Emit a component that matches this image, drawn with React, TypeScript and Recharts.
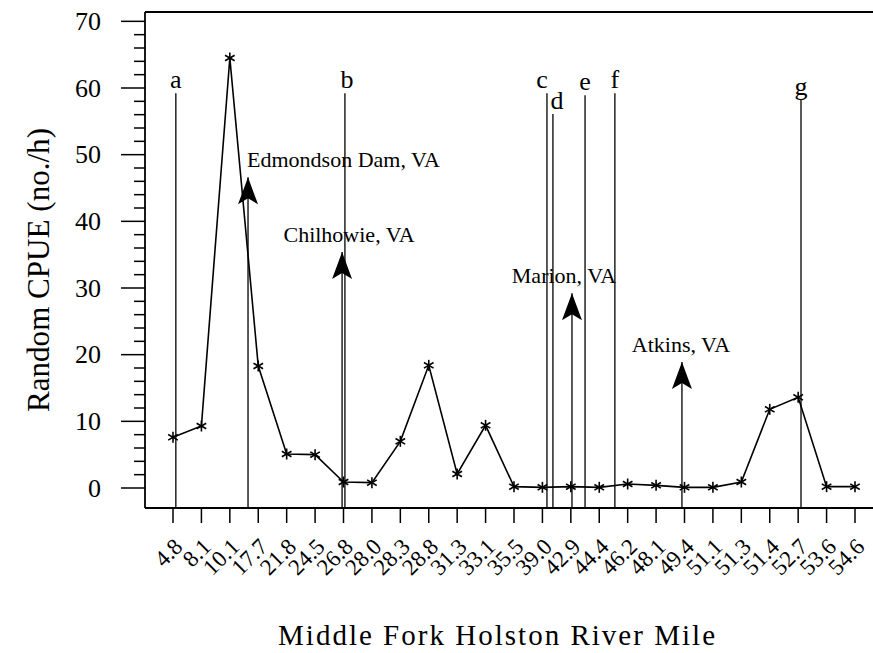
import React from 'react';
import { LineChart, Line, XAxis, YAxis, ReferenceLine, ReferenceDot } from 'recharts';

// river mile of each sampling site, left to right
const riverMiles = ['4.8', '8.1', '10.1', '17.7', '21.8', '24.5', '26.8', '28.0', '28.3', '28.8', '31.3', '33.1', '35.5',
    '39.0', '42.9', '44.4', '46.2', '48.1', '49.4', '51.1', '51.3', '51.4', '52.7', '53.6', '54.6'];
const cpue = [7.6, 9.3, 64.5, 18.3, 5.1, 5.0, 0.9, 0.8, 7.0, 18.4, 2.1, 9.4, 0.2, 0.1, 0.2, 0.1, 0.6, 0.4, 0.1, 0.1, 0.9,
    11.8, 13.6, 0.2, 0.2];

const yTicks = [0, 2, 4, 6, 8, 10, 12, 14, 16, 18, 20, 22, 24, 26, 28, 30, 32, 34, 36, 38, 40, 42, 44, 46, 48, 50, 52, 54,
    56, 58, 60, 62, 64, 66, 68, 70];

// lettered reach boundaries (x in site-index units)
const siteLetters = ['a', 'b', 'c', 'd', 'e', 'f', 'g'];
const sitePositions = [0.1, 6.05, 13.16, 13.37, 14.5, 15.55, 22.1];
const siteTops = [59.2, 59.2, 59.2, 56.1, 58.9, 59.2, 58.2];

// towns marked with arrows
const towns = ['Edmondson Dam, VA', 'Chilhowie, VA', 'Marion, VA', 'Atkins, VA'];
const townPositions = [2.64, 5.95, 14.04, 17.91];
const townArrowTips = [46.6, 35.4, 29.2, 18.9];

const Y_MIN = -3;
const Y_MAX = 71.4;
const SERIF = '"Liberation Serif", "Times New Roman", serif';

const letterDx = [0, 2, -5, 4, 0, 0, 0];
const townText = [
    { dx: -1, anchor: 'start' },
    { dx: 7, anchor: 'middle' },
    { dx: -8, anchor: 'middle' },
    { dx: -1, anchor: 'middle' },
];

const data = riverMiles.map((mile, i) => ({ idx: i, mile, cpue: cpue[i] }));

const Asterisk = ({ cx, cy }: any) => {
    if (cx == null || cy == null) return null;
    return (
        <g stroke="#000" strokeWidth={1.6}>
            <line x1={cx} y1={cy - 5.5} x2={cx} y2={cy + 5.5} />
            <line x1={cx - 4.8} y1={cy - 2.8} x2={cx + 4.8} y2={cy + 2.8} />
            <line x1={cx - 4.8} y1={cy + 2.8} x2={cx + 4.8} y2={cy - 2.8} />
        </g>
    );
};

const YTick = ({ x, y, payload }: any) => {
    const major = payload.value % 10 === 0;
    return (
        <g>
            <line x1={x - (major ? 24 : 11)} x2={x} y1={y} y2={y} stroke="#000" strokeWidth={1.5} />
            {major && (
                <text x={x - 44} y={y} textAnchor="end" dominantBaseline="central" fontSize={26} fontFamily={SERIF} fill="#000">
                    {payload.value}
                </text>
            )}
        </g>
    );
};

const XTick = ({ x, y, payload }: any) => (
    <g>
        <line x1={x} x2={x} y1={y} y2={y + 15} stroke="#000" strokeWidth={1.5} />
        <text transform={`translate(${x + 11},${y + 40}) rotate(-45)`} textAnchor="end" fontSize={23} fontFamily={SERIF} fill="#000">
            {riverMiles[payload.value]}
        </text>
    </g>
);

const arrowHead = (i: number) => ({ cx, cy }: any) => (
    <g>
        <polygon points={`${cx},${cy} ${cx + 10},${cy + 27} ${cx},${cy + 21} ${cx - 10},${cy + 27}`} fill="#000" />
        <text x={cx + townText[i].dx} y={cy - 10} textAnchor={townText[i].anchor as any} fontSize={22} fontFamily={SERIF} fill="#000">
            {towns[i]}
        </text>
    </g>
);

export default function App() {
    return (
        <div style={{ position: 'absolute', left: 0, top: 0, width: 873, height: 653, overflow: 'hidden', background: '#fff' }}>
            <LineChart width={900} height={653} data={data} margin={{ top: 12, right: 20, bottom: 0, left: 0 }}>
                <XAxis
                    type="number"
                    dataKey="idx"
                    domain={[0, 24]}
                    ticks={data.map((d) => d.idx)}
                    interval={0}
                    padding={{ left: 28, right: 25 }}
                    height={145}
                    tickSize={0}
                    tickMargin={0}
                    tickLine={false}
                    axisLine={{ stroke: '#000', strokeWidth: 1.8 }}
                    tick={<XTick />}
                    label={{
                        content: ({ viewBox }: any) => (
                            <text x={viewBox.x + viewBox.width / 2 - 16} y={viewBox.y + 137} textAnchor="middle"
                                fontSize={29} fontFamily={SERIF} fill="#000" textLength={437}>
                                Middle Fork Holston River Mile
                            </text>
                        ),
                    }}
                />
                <YAxis
                    type="number"
                    domain={[Y_MIN, Y_MAX]}
                    ticks={yTicks}
                    interval={0}
                    width={145}
                    tickSize={0}
                    tickMargin={0}
                    tickLine={false}
                    axisLine={{ stroke: '#000', strokeWidth: 1.8 }}
                    tick={<YTick />}
                    label={{
                        content: ({ viewBox }: any) => {
                            const cy = viewBox.y + viewBox.height / 2 + 10;
                            return (
                                <text transform={`translate(49,${cy}) rotate(-90)`} textAnchor="middle" fontSize={32}
                                    fontFamily={SERIF} fill="#000" textLength={284} lengthAdjust="spacingAndGlyphs">
                                    Random CPUE (no./h)
                                </text>
                            );
                        },
                    }}
                />
                <ReferenceLine y={Y_MAX} stroke="#000" strokeWidth={1.8} />
                {sitePositions.map((p, i) => (
                    <ReferenceLine
                        key={siteLetters[i]}
                        segment={[{ x: p, y: Y_MIN }, { x: p, y: siteTops[i] }]}
                        stroke="#000"
                        strokeWidth={1.3}
                        label={{
                            content: ({ viewBox }: any) => (
                                <text x={viewBox.x + letterDx[i]} y={viewBox.y - 5} textAnchor="middle" fontSize={26}
                                    fontFamily={SERIF} fill="#000">
                                    {siteLetters[i]}
                                </text>
                            ),
                        }}
                    />
                ))}
                {townPositions.map((p, i) => (
                    <ReferenceLine
                        key={towns[i]}
                        segment={[{ x: p, y: Y_MIN }, { x: p, y: townArrowTips[i] }]}
                        stroke="#000"
                        strokeWidth={1.3}
                    />
                ))}
                {townPositions.map((p, i) => (
                    <ReferenceDot key={'h' + i} x={p} y={townArrowTips[i]} r={1} shape={arrowHead(i)} />
                ))}
                <Line
                    type="linear"
                    dataKey="cpue"
                    stroke="#000"
                    strokeWidth={1.6}
                    dot={(p: any) => <Asterisk key={p.index} {...p} />}
                    activeDot={false}
                    isAnimationActive={false}
                />
            </LineChart>
        </div>
    );
}
